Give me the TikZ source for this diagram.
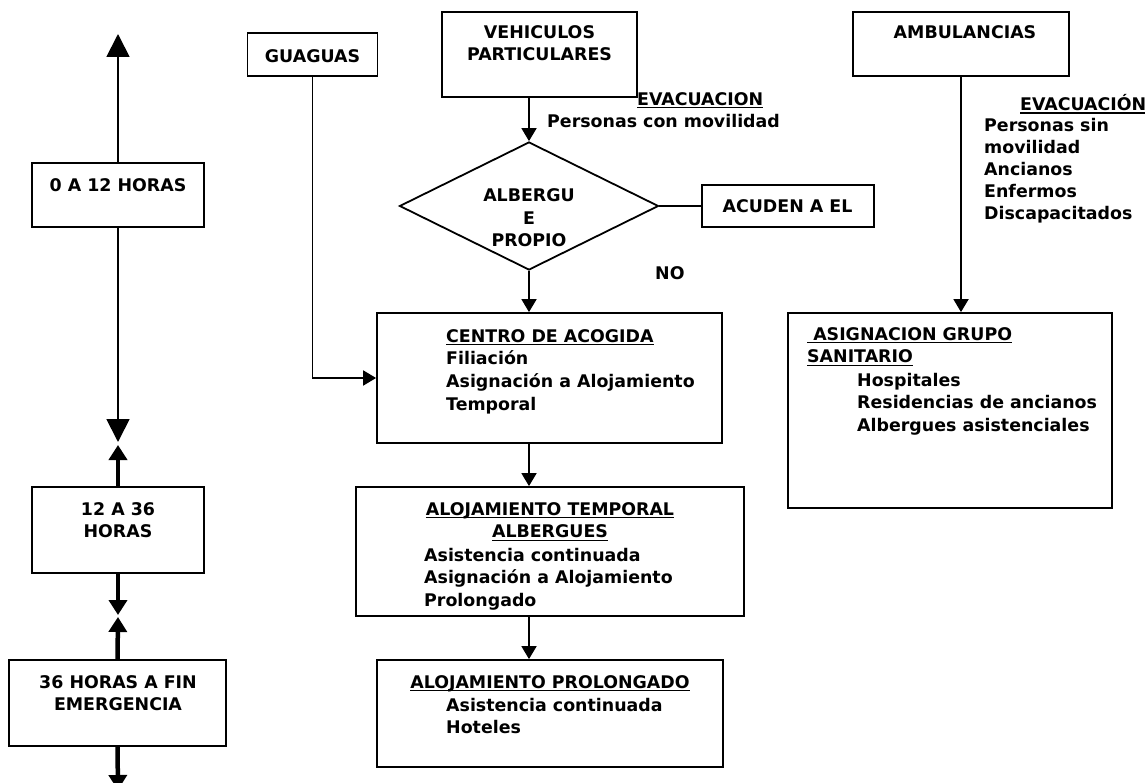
\documentclass[tikz,border=0pt]{standalone}
\usepackage{fontspec}
\setmainfont{DejaVu Sans}
\usetikzlibrary{shapes.geometric,arrows.meta}
\newcommand\myul[1]{\setbox0\hbox{#1}\rlap{\rule[-3.2pt]{\wd0}{1.5pt}}\box0}
\begin{document}
\begin{tikzpicture}[x=1pt,y=-1pt,
  box/.style={draw, line width=1.8pt, rectangle, inner sep=0},
  txt/.style={inner sep=0, font=\fontsize{17.4}{22.8}\selectfont\bfseries, align=left, anchor=north west},
  ctxt/.style={inner sep=0, font=\fontsize{17.4}{22.8}\selectfont\bfseries, align=center, anchor=north},
  thin/.style={line width=1.8pt},
  thick/.style={line width=4.5pt},
  arr/.style={thin, -{Triangle[width=15pt,length=13pt]}},
  bigarr/.style={thin, -{Triangle[width=23pt,length=23pt]}},
  tharr/.style={thick, -{Triangle[width=18pt,length=15pt]}}
]
\useasboundingbox (0,0) rectangle (1145,783);

% ---- timeline ----
\node[box, minimum width=172, minimum height=64] (t1) at (118,195) {};
\node[ctxt] (t1t) at (118,175) {\strut 0 A 12 HORAS};
\node[box, minimum width=172, minimum height=86] (t2) at (118,530) {};
\node[ctxt] (t2t) at (118,499) {\strut 12 A 36\\HORAS};
\node[box, minimum width=217, minimum height=86] (t3) at (117.5,703) {};
\node[ctxt] (t3t) at (118,672) {\strut 36 HORAS A FIN\\EMERGENCIA};

\coordinate (up1) at (118,34);
\coordinate (dn1) at (118,442);
\coordinate (up2) at (118,445);
\coordinate (dn2) at (118,615);
\coordinate (up3) at (118,617);
\coordinate (dn3) at (118,790);
\draw[bigarr] (t1.north) -- (up1);
\draw[bigarr] (t1.south) -- (dn1);
\draw[tharr] (t2.north) -- (up2);
\draw[tharr] (t2.south) -- (dn2);
\draw[tharr] (t3.north) -- (up3);
\draw[tharr] (t3.south) -- (dn3);

% ---- top sources ----
\node[box, minimum width=130, minimum height=43] (guag) at (312.5,54.5) {};
\node[ctxt] (guagt) at (312.5,46) {\strut GUAGUAS};
\node[box, minimum width=195, minimum height=85] (veh) at (539.5,54.5) {};
\node[ctxt] (veht) at (539.5,22) {\strut VEHICULOS\\PARTICULARES};
\node[box, minimum width=216, minimum height=64] (amb) at (961,44) {};
\node[ctxt] (ambt) at (965,22) {\strut AMBULANCIAS};

\node[txt] (ev1) at (637,89) {\strut\myul{EVACUACION}};
\node[txt] (pm) at (547,111) {\strut Personas con movilidad};

% ---- decision ----
\node[diamond, draw, line width=1.8pt, inner sep=0, minimum width=259, minimum height=128] (dia) at (529,206) {};
\node[ctxt, font=\fontsize{17.4}{22.5}\selectfont\bfseries] (diat) at (529,186) {\strut ALBERGU\\E\\PROPIO};
\node[box, minimum width=172, minimum height=42] (acu) at (788,206) {};
\node[ctxt] (acut) at (787.5,196) {\strut ACUDEN A EL};
\node[txt] (no) at (655,263) {\strut NO};

% ---- right branch ----
\node[txt] (ev2) at (1020,94) {\strut\myul{EVACUACIÓN}};
\node[txt, font=\fontsize{17.4}{22}\selectfont\bfseries] (ev2l) at (984,115.6) {\strut Personas sin\\movilidad\\Ancianos\\Enfermos\\Discapacitados};
\node[box, minimum width=324, minimum height=195] (asig) at (950,410.5) {};
\node[txt] (asigt) at (807,324) {\strut\myul{\ ASIGNACION GRUPO}\\\myul{SANITARIO}};
\node[txt] (asigl) at (857,370) {\strut Hospitales\\Residencias de ancianos\\Albergues asistenciales};

% ---- central chain ----
\node[box, minimum width=345, minimum height=130] (cen) at (549.5,378) {};
\node[txt] (cent) at (446,326) {\strut\myul{CENTRO DE ACOGIDA}\\Filiación\\Asignación a Alojamiento\\Temporal};
\node[box, minimum width=388, minimum height=129] (alt) at (550,551.5) {};
\node[ctxt] (altt) at (550,499) {\strut\myul{ALOJAMIENTO TEMPORAL}\\\myul{ALBERGUES}};
\node[txt] (altl) at (424,545) {\strut Asistencia continuada\\Asignación a Alojamiento\\Prolongado};
\node[box, minimum width=346, minimum height=107] (alp) at (550,713.5) {};
\node[ctxt] (alpt) at (550,672) {\strut\myul{ALOJAMIENTO PROLONGADO}};
\node[txt] (alpl) at (446,695) {\strut Asistencia continuada\\Hoteles};

% ---- connectors ----
\draw[arr] (veh.south -| dia.north) -- (dia.north);
\draw[thin] (dia.east) -- (acu.west);
\draw[arr] (dia.south) -- (dia.south |- cen.north);
\draw[arr] (guag.south) |- (cen.west);
\draw[arr] (dia.south |- cen.south) -- (dia.south |- alt.north);
\draw[arr] (dia.south |- alt.south) -- (dia.south |- alp.north);
\draw[arr] (amb.south) -- (amb.south |- asig.north);
\end{tikzpicture}
\end{document}
